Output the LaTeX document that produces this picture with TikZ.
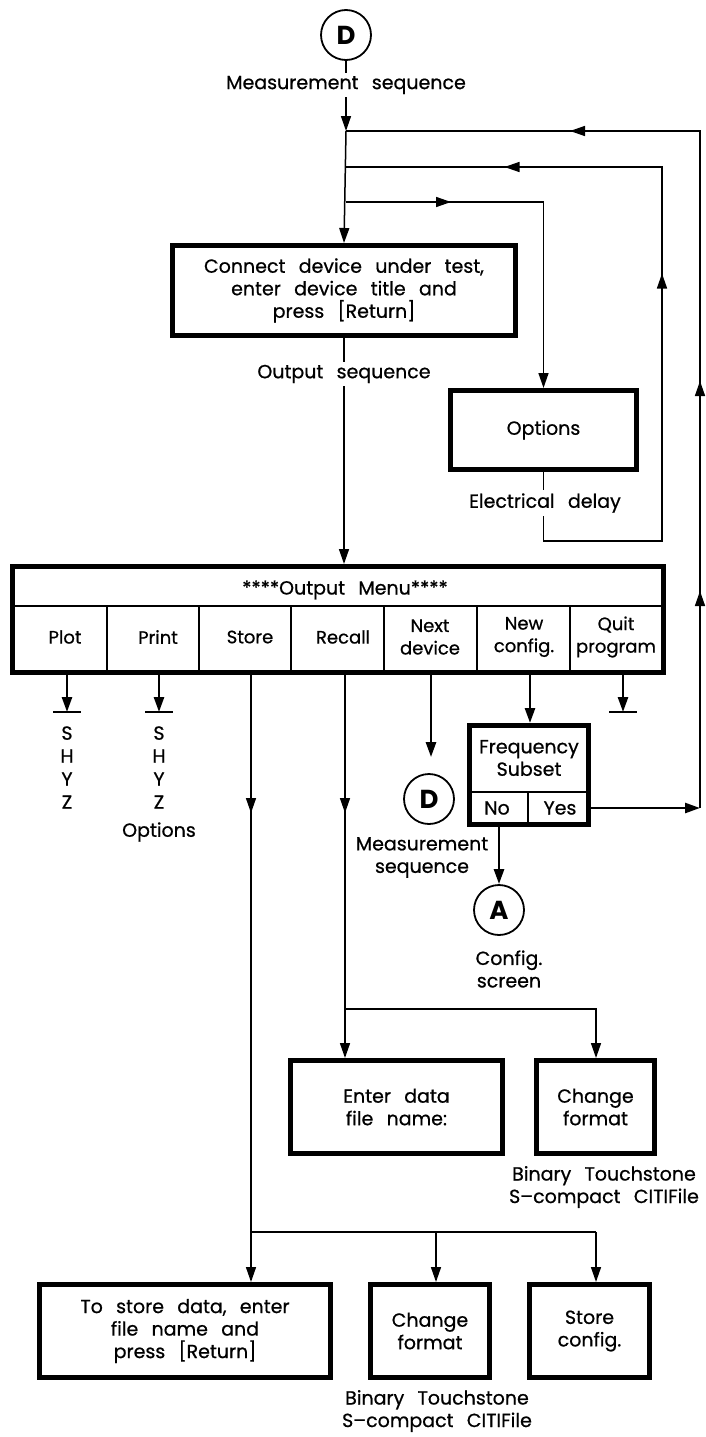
\documentclass[tikz,border=0pt]{standalone}
\usepackage{fontspec}
\setmainfont{Poppins}
\newfontfamily\dgfam{Poppins}[FakeBold=0.7,Ligatures=TeX]
\usetikzlibrary{arrows.meta,decorations.markings}
\newcommand\dgfont{\dgfam\fontsize{19}{22.5}\selectfont\spaceskip=0.7em\relax}
\newcommand\dgfontm{\dgfam\fontsize{18}{22.5}\selectfont}
\newcommand\dgfontb{\dgfam\fontsize{19}{23}\selectfont}
\newcommand\dgcirc{\fontsize{26}{26}\selectfont\bfseries}
\begin{document}
\begin{tikzpicture}[x=1pt,y=-1pt,
  every node/.style={font=\dgfont, inner sep=0pt, align=center},
  box/.style={draw, line width=5pt},
  ln/.style={line width=1.5pt},
  thk/.style={line width=2.6pt},
  arr/.style={-{Triangle[length=15pt,width=10pt]}},
  midarr/.style={postaction={decorate,decoration={markings,mark=at position #1 with {\arrow{Triangle[length=15pt,width=10pt]}}}}},
  lbl/.style={fill=white, inner sep=3pt},
  circ/.style={draw, circle, line width=1.8pt, minimum size=50pt, font=\dgcirc},
  tbar/.style={line width=2.6pt},
  mlab/.style={font=\dgfontm}
]
\useasboundingbox (0,0) rectangle (705,1437);

% ---------- nodes ----------
\node[circ] (Dtop) at (346,35) {D};
\node[box, minimum width=343pt, minimum height=90pt] (connect) at (344,290.5)
  {Connect device under test,\\enter device title and\\press {[Return]}};
\node[box, minimum width=186pt, minimum height=79pt] (options) at (543.5,430) {Options};
\node[box, minimum width=651pt, minimum height=106pt] (menu) at (338,619.5) {};
\node[box, minimum width=119pt, minimum height=99pt] (freq) at (529,775) {};
\node[circ] (Dnext) at (429,799) {D};
\node[circ] (A) at (499,910) {A};
\node[box, minimum width=212pt, minimum height=93pt] (enter) at (396.5,1107) {Enter data\\file name:};
\node[box, minimum width=118pt, minimum height=93pt] (chgA) at (595.5,1107) {Change\\format};
\node[box, minimum width=291pt, minimum height=93pt] (storeb) at (185,1331)
  {To store data, enter\\file name and\\press {[Return]}};
\node[box, minimum width=119pt, minimum height=93pt] (chgB) at (430,1331) {Change\\format};
\node[box, minimum width=120pt, minimum height=93pt] (storecfg) at (589.5,1331) {Store\\config.};

% ---------- menu contents ----------
\draw[ln] (menu.west |- 0,606) -- (menu.east |- 0,606);
\foreach \xx in {107,199,291,384,477,570} \draw[ln] (\xx,606) -- (\xx,672.5);
\node (mtitle) at (345,590) {****Output Menu****};
\node[mlab] (cPlot) at (65,637) {Plot};
\node[mlab] (cPrint) at (158,637) {Print};
\node[mlab] (cStore) at (250,637) {Store};
\node[mlab] (cRecall) at (343,637) {Recall};
\node[mlab] (cNext) at (430,637) {Next\\device};
\node[mlab] (cNew) at (524,637) {New\\config.};
\node[mlab] (cQuit) at (616,637) {Quit\\program};

% ---------- frequency subset contents ----------
\draw[ln] (freq.west |- 0,792) -- (freq.east |- 0,792);
\draw[ln] (528,792) -- (528,824.5);
\node (ftext) at (529,758) {Frequency\\Subset};
\node (fno) at (497,808) {No};
\node (fyes) at (560,808) {Yes};

% ---------- coordinates ----------
\coordinate (j1) at (346,131);
\coordinate (j2) at (346,167);
\coordinate (j3) at (346,202);
\coordinate (c3) at (543.5,202);
\coordinate (r1) at (700,131);
\coordinate (r2) at (700,808);
\coordinate (el) at (543.5,541);
\coordinate (e2) at (662,541);
\coordinate (e3) at (662,167);
\coordinate (mPlot) at (67,672.5);
\coordinate (mPrint) at (159,672.5);
\coordinate (mStore) at (251,672.5);
\coordinate (mRecall) at (345,672.5);
\coordinate (mNext) at (431,672.5);
\coordinate (mNew) at (530,672.5);
\coordinate (mQuit) at (623,672.5);
\coordinate (tPlot) at (67,712);
\coordinate (tPrint) at (159,712);
\coordinate (tQuit) at (623,712);
\coordinate (yes) at (591,808);
\coordinate (no) at (499,827);
\coordinate (jr) at (345,1009);
\coordinate (jr2) at (596,1009);
\coordinate (js) at (251,1232);
\coordinate (js2) at (436,1232);
\coordinate (js3) at (596,1232);

% ---------- connectors ----------
\draw[ln,arr] (Dtop) -- (j1);
\draw[ln,arr] (j1) -- (connect.north);
\draw[ln,midarr=217pt,midarr=427pt,midarr=807pt] (r2) -- (r1) -- (j1);
\draw[ln,midarr=455pt,midarr=719pt] (options.south) -- (el) -- (e2) -- (e3) -- (j2);
\draw[ln,arr,midarr=105pt] (j3) -- (c3) -- (options.north);
\draw[ln,arr] (connect.south) -- (connect.south |- menu.north);

\draw[thk,arr] (mPlot) -- (tPlot);
\draw[tbar] ([xshift=-14pt]tPlot) -- ([xshift=14pt]tPlot);
\draw[thk,arr] (mPrint) -- (tPrint);
\draw[tbar] ([xshift=-14pt]tPrint) -- ([xshift=14pt]tPrint);
\draw[thk,arr] (mQuit) -- (tQuit);
\draw[tbar] ([xshift=-14pt]tQuit) -- ([xshift=14pt]tQuit);

\draw[thk,arr,shorten >=16pt] (mNext) -- (mNext |- Dnext.north);
\draw[thk,arr] (mNew) -- (mNew |- freq.north);
\draw[thk,arr] (yes) -- (r2);
\draw[thk,arr] (no) -- (A.north);

\draw[ln,midarr=140.5pt] (mRecall) -- (jr);
\draw[ln,arr] (jr) -- (jr |- enter.north);
\draw[ln,arr] (jr) -- (jr2) -- (jr2 |- chgA.north);

\draw[ln,midarr=140.5pt] (mStore) -- (js);
\draw[ln,arr] (js) -- (js |- storeb.north);
\draw[ln] (js) -- (js3);
\draw[ln,arr] (js2) -- (js2 |- chgB.north);
\draw[ln,arr] (js3) -- (js3 |- storecfg.north);

% ---------- labels ----------
\node[lbl] (lMeas) at (346,85) {Measurement sequence};
\node[lbl] (lOut) at (344,374) {Output sequence};
\node[lbl] (lElec) at (545,503) {Electrical delay};
\node[font=\dgfontb] (shyz1) at (67,767.5) {S\\H\\Y\\Z};
\node[font=\dgfontb] (shyz2) at (159,767.5) {S\\H\\Y\\Z};
\node (lOpt) at (159,832) {Options};
\node (lMeas2) at (422,857.5) {Measurement\\sequence};
\node (lConf) at (509,969) {Config.\\screen};
\node (lFmtA) at (604,1187) {Binary Touchstone\\S\textendash compact CITIFile};
\node (lFmtB) at (437,1411) {Binary Touchstone\\S\textendash compact CITIFile};
\end{tikzpicture}
\end{document}
